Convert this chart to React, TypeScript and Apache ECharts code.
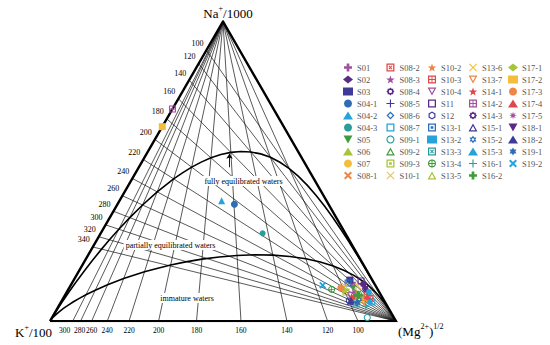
import React, { useEffect, useRef } from "react";
import * as echarts from "echarts";

// ---------- data ----------
const sampleNames = [
  "S01", "S02", "S03", "S04-1", "S04-2", "S04-3", "S05", "S06", "S07", "S08-1",
  "S08-2", "S08-3", "S08-4", "S08-5", "S08-6", "S08-7", "S09-1", "S09-2", "S09-3", "S10-1",
  "S10-2", "S10-3", "S10-4", "S11", "S12", "S13-1", "S13-2", "S13-3", "S13-4", "S13-5",
  "S13-6", "S13-7", "S14-1", "S14-2", "S14-3", "S15-1", "S15-2", "S15-3", "S16-1", "S16-2",
  "S17-1", "S17-2", "S17-3", "S17-4", "S17-5", "S18-1", "S18-2", "S19-1", "S19-2",
];
// relative percentages of Na/1000, K/100 and Mg^0.5
const naPct = [
  12.7, 12.4, 13.7, 39.0, 40.2, 29.3, 11.0, 10.0, 8.1, 7.7,
  8.7, 8.1, 10.7, 6.1, 6.4, 6.4, 1.2, 9.3, 9.7, 11.7,
  10.9, 7.6, 8.7, 13.4, 6.8, 12.7, 9.7, 5.7, 10.6, 7.0,
  11.7, 6.0, 8.1, 70.8, 12.4, 6.4, 7.3, 6.8, 5.0, 8.7,
  10.4, 64.9, 11.1, 8.3, 9.7, 10.7, 7.0, 6.1, 12.0,
];
const kPct = [
  6.4, 3.1, 6.5, 27.2, 30.3, 23.9, 6.9, 6.6, 5.6, 8.0,
  4.0, 8.8, 3.6, 8.2, 9.5, 3.8, 7.7, 5.7, 9.6, 5.1,
  10.2, 3.7, 8.9, 3.4, 10.2, 7.5, 3.0, 8.7, 13.3, 6.3,
  8.9, 6.2, 8.3, 29.2, 3.3, 10.1, 7.0, 4.1, 6.2, 6.6,
  9.8, 35.1, 10.4, 4.2, 7.3, 3.5, 9.5, 8.1, 15.2,
];
const mgPct = [
  80.9, 84.5, 79.8, 33.8, 29.5, 46.8, 82.1, 83.4, 86.3, 84.3,
  87.3, 83.1, 85.7, 85.7, 84.1, 89.8, 91.1, 85.0, 80.7, 83.2,
  78.9, 88.7, 82.4, 83.2, 83.0, 79.8, 87.3, 85.6, 76.1, 86.7,
  79.4, 87.8, 83.6, 0.0, 84.3, 83.5, 85.7, 89.1, 88.8, 84.7,
  79.8, 0.0, 78.5, 87.5, 83.0, 85.8, 83.5, 85.8, 72.8,
];
// geothermometer isotherms (°C)
const tknTemps = [100, 120, 140, 160, 180, 200, 220, 240, 260, 280, 300, 320, 340];
const tkmTemps = [100, 120, 140, 160, 180, 200, 220, 240, 260, 280, 300];
const curveTemps = [
  -10, 0, 5, 10, 15, 20, 25, 30, 40, 50, 60, 70, 80, 90, 100, 110, 120, 130, 140, 150,
  160, 170, 180, 190, 200, 210, 220, 240, 260, 280, 300, 320, 340, 370, 400, 450, 500,
  600, 700, 850, 1000,
];
const arrowTemp = 160;

// ---------- styles ----------
const palette = [
  "#a2529d", "#5b2a86", "#3e3a98", "#2e6db5", "#27a3db", "#2a9c9a",
  "#3f9b3c", "#a8c43a", "#f5bd3c", "#ee8646", "#e0484a",
];
const shapeKeys = [
  "plusThick", "diamond", "rect", "circle", "triangle", "circleS", "downTri", "triangleS", "circleS", "xThick",
  "boxX", "star5", "flower", "plusThin", "hollowDiamond", "hollowSquare", "hollowCircle", "hollowTri", "boxSquare", "xThin",
  "star5", "boxPlus", "hollowDownTri", "hollowSquare", "hollowHex", "boxSquare", "rectS", "boxX", "circlePlus", "hollowTri",
  "xThin", "hollowDownTri", "star5", "boxPlus", "flower", "hollowTri", "hollowStar6", "triangle", "plusThin", "plusThick",
  "diamond", "rect", "circle", "triangle", "asterisk", "downTri", "triangle", "star6", "xThick",
];

const f2 = (v: number) => v.toFixed(2);
function poly(pts: number[][], rev = false) {
  const p = rev ? [...pts].reverse() : pts;
  return "M" + p.map((q) => f2(q[0]) + " " + f2(q[1])).join("L") + "Z";
}
function regular(n: number, r: number, rev = false) {
  const pts: number[][] = [];
  for (let i = 0; i < n; i++) {
    const a = ((-90 + (360 * i) / n) * Math.PI) / 180;
    pts.push([5 + r * Math.cos(a), 5 + r * Math.sin(a)]);
  }
  return poly(pts, rev);
}
function star(n: number, ro: number, ri: number, rev = false) {
  const pts: number[][] = [];
  for (let i = 0; i < 2 * n; i++) {
    const a = ((-90 + (180 * i) / n) * Math.PI) / 180;
    const r = i % 2 === 0 ? ro : ri;
    pts.push([5 + r * Math.cos(a), 5 + r * Math.sin(a)]);
  }
  return poly(pts, rev);
}
function sq(a: number, b: number, rev = false) {
  return poly([[a, a], [b, a], [b, b], [a, b]], rev);
}
function plus(a: number, b: number, h: number) {
  const l = 5 - h, r = 5 + h;
  return poly([[l, a], [r, a], [r, l], [b, l], [b, r], [r, r], [r, b], [l, b], [l, r], [a, r], [a, l], [l, l]]);
}
const ringSq = sq(0, 10) + sq(1.6, 8.4, true);
const ringCircle = regular(28, 5) + regular(28, 3.6, true);
const paths: Record<string, string> = {
  plusThick: plus(0, 10, 1.7),
  plusThin: plus(0, 10, 0.7),
  xThick: poly([[0, 1.8], [1.8, 0], [5, 3.2], [8.2, 0], [10, 1.8], [6.8, 5], [10, 8.2], [8.2, 10], [5, 6.8], [1.8, 10], [0, 8.2], [3.2, 5]]),
  xThin: poly([[0, 0.9], [0.9, 0], [5, 4.1], [9.1, 0], [10, 0.9], [5.9, 5], [10, 9.1], [9.1, 10], [5, 5.9], [0.9, 10], [0, 9.1], [4.1, 5]]),
  downTri: poly([[0, 0], [10, 0], [5, 9]]),
  hollowDownTri: poly([[0, 0], [10, 0], [5, 9]]) + poly([[2.3, 1.3], [7.7, 1.3], [5, 6.2]], true),
  hollowTri: poly([[5, 0], [10, 9], [0, 9]]) + poly([[5, 2.8], [7.7, 7.7], [2.3, 7.7]], true),
  hollowSquare: ringSq,
  boxSquare: ringSq + sq(3.3, 6.7),
  boxX: ringSq + poly([[2.6, 3.5], [3.5, 2.6], [7.4, 6.5], [6.5, 7.4]]) + poly([[6.5, 2.6], [7.4, 3.5], [3.5, 7.4], [2.6, 6.5]]),
  boxPlus: ringSq + plus(1.6, 8.4, 0.6),
  hollowDiamond: poly([[5, 0], [10, 5], [5, 10], [0, 5]]) + poly([[5, 2.2], [7.8, 5], [5, 7.8], [2.2, 5]], true),
  hollowCircle: ringCircle,
  circlePlus: ringCircle + plus(1.4, 8.6, 0.6),
  star5: star(5, 5, 2.1),
  star6: star(6, 5, 2.9),
  flower: star(8, 5, 3.8) + regular(12, 2, true),
  hollowHex: regular(6, 5) + regular(6, 3.3, true),
  hollowStar6: star(6, 5, 2.9) + regular(6, 1.7, true),
  asterisk: star(8, 5, 1.9),
};
const builtIn: Record<string, [string, number]> = {
  diamond: ["diamond", 7], rect: ["rect", 7], rectS: ["rect", 5.5], circle: ["circle", 7],
  circleS: ["circle", 6], triangle: ["triangle", 7], triangleS: ["triangle", 6],
};
function symbolFor(key: string): [string, number] {
  if (builtIn[key]) return builtIn[key];
  const size = key === "plusThick" ? 8.5 : 7;
  return ["path://" + paths[key], size];
}

// ---------- ternary geometry ----------
const H = Math.sqrt(3) / 2;
function toXY(na: number, k: number, mg: number): number[] {
  const s = na + k + mg;
  const n = na / s, m = mg / s;
  return [m + n / 2, n * H];
}
const TK = (t: number) => t + 273.15;
// (Na/1000)/(K/100) from Na-K geothermometer: log(Na/K) = 1390/T - 1.75
const rNaK = (t: number) => Math.pow(10, 1390 / TK(t) - 1.75) / 10;
// (K/100)/sqrt(Mg) from K-Mg geothermometer: log(K^2/Mg) = 14 - 4410/T
const rKMg = (t: number) => Math.sqrt(Math.pow(10, 14 - 4410 / TK(t))) / 100;
// immature boundary, maturity index 2.0
const rNaKImm = (t: number) => {
  const lkm = 14 - 4410 / TK(t);
  const lkn = 0.315 * lkm - 2.0;
  return Math.pow(10, -lkn) / 10;
};

const vNa = toXY(1, 0, 0), vK = toXY(0, 1, 0), vMg = toXY(0, 0, 1);

export default function App() {
  const ref = useRef<HTMLDivElement>(null);
  useEffect(() => {
    if (!ref.current) return;
    const chart = echarts.init(ref.current, undefined, { renderer: "svg" });
    const serif = "'Liberation Serif', 'Times New Roman', serif";

    const tknLines = tknTemps.map((t) => ({ coords: [toXY(rNaK(t), 1, 0), vMg] }));
    const tkmLines = tkmTemps.map((t) => ({ coords: [toXY(0, rKMg(t), 1), vNa] }));
    const fullCurve = curveTemps.map((t) => toXY(rNaK(t), 1, 1 / rKMg(t)));
    const immCurve = curveTemps.map((t) => toXY(rNaKImm(t), 1, 1 / rKMg(t)));
    const ap = toXY(rNaK(arrowTemp), 1, 1 / rKMg(arrowTemp));

    const sampleSeries = sampleNames.map((name, i) => {
      const [sym, size] = symbolFor(shapeKeys[i]);
      return {
        type: "scatter",
        name,
        symbol: sym,
        symbolSize: size,
        symbolKeepAspect: true,
        itemStyle: { color: palette[i % palette.length], opacity: 1 },
        data: [toXY(naPct[i], kPct[i], mgPct[i])],
        z: 6,
        silent: true,
      };
    });

    const legendX = [343, 386, 427, 468, 508];
    const legends = legendX.map((lx, c) => ({
      data: sampleNames.slice(c * 10, c * 10 + 10),
      orient: "vertical",
      left: lx,
      top: 63,
      itemWidth: 10,
      itemHeight: 8,
      itemGap: 3,
      padding: 0,
      selectedMode: false,
      symbolKeepAspect: true,
      textStyle: { fontFamily: serif, fontSize: 8.5, color: "#555", lineHeight: 8, padding: [0, 0, 0, -1] },
    }));

    const sup = (extra: object) => ({
      rich: {
        b: { fontFamily: serif, fontSize: 13, lineHeight: 16, verticalAlign: "bottom", fill: "#000", color: "#000" },
        s: { fontFamily: serif, fontSize: 8, lineHeight: 9, verticalAlign: "top", fill: "#000", color: "#000" },
      },
      ...extra,
    });
    const region = (text: string, x: number, y: number) => ({
      type: "text",
      x,
      y,
      z: 4,
      style: {
        text,
        fontFamily: serif,
        fontSize: 8,
        fill: "#000",
        align: "center",
        verticalAlign: "middle",
        backgroundColor: "#fff",
        padding: [1, 2],
      },
    });

    chart.setOption({
      animation: false,
      backgroundColor: "#fff",
      grid: { left: 50, top: 21.5, width: 346, height: 346 * H },
      xAxis: { type: "value", min: 0, max: 1, show: false },
      yAxis: { type: "value", min: 0, max: H, show: false },
      legend: legends,
      graphic: [
        { type: "text", x: 228, y: 12, z: 4, style: sup({ text: "{b|Na}{s|+}{b|/1000}", align: "center", verticalAlign: "middle" }) },
        { type: "text", x: 52, y: 331, z: 4, style: sup({ text: "{b|K}{s|+}{b|/100}", align: "right", verticalAlign: "middle" }) },
        { type: "text", x: 398, y: 330, z: 4, style: sup({ text: "{b|(Mg}{s|2+}{b|)}{s|1/2}", align: "left", verticalAlign: "middle" }) },
        region("fully equilibrated waters", 243.5, 181),
        region("partially equilibrated waters", 170.5, 245),
        region("immature waters", 187, 298),
      ],
      series: [
        {
          type: "lines", coordinateSystem: "cartesian2d", silent: true, z: 1,
          lineStyle: { color: "#111", width: 0.7, opacity: 1 },
          data: [...tknLines, ...tkmLines],
        },
        {
          type: "lines", coordinateSystem: "cartesian2d", polyline: true, silent: true, z: 2,
          lineStyle: { color: "#000", width: 1.6, opacity: 1 },
          data: [{ coords: fullCurve }, { coords: immCurve }],
        },
        {
          type: "lines", coordinateSystem: "cartesian2d", polyline: true, silent: true, z: 5,
          lineStyle: { color: "#000", width: 2.4, opacity: 1, join: "miter" },
          data: [{ coords: [vK, vMg, vNa, vK] }],
        },
        {
          type: "lines", coordinateSystem: "cartesian2d", silent: true, z: 5,
          symbol: ["none", "arrow"], symbolSize: 5,
          lineStyle: { color: "#000", width: 0.9, opacity: 1 },
          data: [{ coords: [[ap[0] - 0.004, ap[1] - 0.043], [ap[0] - 0.004, ap[1] - 0.004]] }],
        },
        {
          type: "scatter", silent: true, z: 4, symbolSize: 0.1,
          itemStyle: { color: "#fff", opacity: 0 },
          label: { show: true, position: "left", distance: 3, offset: [0, -7], formatter: "{b}", fontFamily: serif, fontSize: 8, color: "#000", opacity: 1 },
          data: tknTemps.map((t) => ({ name: String(t), value: toXY(rNaK(t), 1, 0) })),
        },
        {
          type: "scatter", silent: true, z: 4, symbolSize: 0.1,
          itemStyle: { color: "#fff", opacity: 0 },
          label: { show: true, position: "bottom", distance: 5, formatter: "{b}", fontFamily: serif, fontSize: 7.5, color: "#000", opacity: 1 },
          data: tkmTemps.map((t) => ({
            name: String(t),
            value: toXY(0, rKMg(t), 1),
            label: t === 300 ? { offset: [-8, 0] } : t === 280 ? { offset: [-1, 0] } : undefined,
          })),
        },
        ...sampleSeries,
      ],
    });
    return () => chart.dispose();
  }, []);
  return <div ref={ref} style={{ position: "absolute", left: 0, top: 0, width: 550, height: 345 }} />;
}
